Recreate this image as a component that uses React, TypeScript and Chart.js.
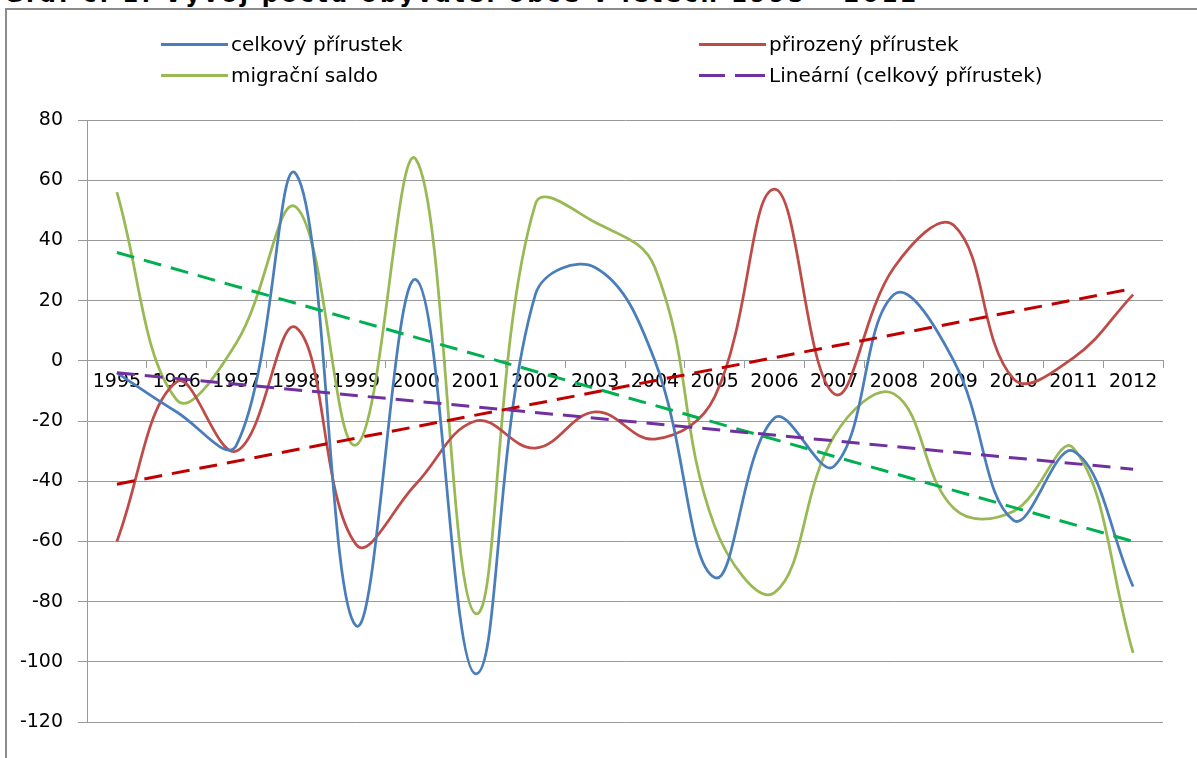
import React, { useEffect, useRef } from "react";
import { Chart, registerables } from "chart.js";

Chart.register(...registerables);

const years = ["1995","1996","1997","1998","1999","2000","2001","2002","2003","2004","2005","2006","2007","2008","2009","2010","2011","2012"];
const celkovy = [-4, -17, -28, 62, -88, 27, -104, 22, 31, 0, -72, -19, -35, 22, 0, -53, -30, -75];
const prirozeny = [-60, -7, -30, 11, -61, -41, -20, -29, -17, -26, -12, 57, -11, 31, 45, -6, 1, 22];
const migracni = [56, -13, 6, 51, -28, 67, -84, 52, 46, 31, -55, -77, -25, -11, -49, -50, -29, -97];
const trendCelkovy = [-4, null, null, null, null, null, null, null, null, null, null, null, null, null, null, null, null, -36];
const trendMigracni = [36, null, null, null, null, null, null, null, null, null, null, null, null, null, null, null, null, -60];
const trendPrirozeny = [-41, null, null, null, null, null, null, null, null, null, null, null, null, null, null, null, null, 24];
const yTicks = [80, 60, 40, 20, 0, -20, -40, -60, -80, -100, -120];

const FONT = "'DejaVu Sans', sans-serif";

export default function App() {
  const ref = useRef<HTMLCanvasElement | null>(null);
  useEffect(() => {
    document.body.style.margin = "0";
    const ctx = ref.current!.getContext("2d")!;
    const chart = new Chart(ctx, {
      type: "line",
      data: {
        labels: years,
        datasets: [
          { label: "Lineární (celkový přírustek)", data: trendCelkovy, borderColor: "#7030A0", borderWidth: 3, borderDash: [18, 10], spanGaps: true, tension: 0, pointRadius: 0, order: 1 },
          { label: "trend migrační", data: trendMigracni, borderColor: "#00B050", borderWidth: 3, borderDash: [18, 10], spanGaps: true, tension: 0, pointRadius: 0, order: 1 },
          { label: "trend přirozený", data: trendPrirozeny, borderColor: "#C00000", borderWidth: 3, borderDash: [18, 10], spanGaps: true, tension: 0, pointRadius: 0, order: 1 },
          { label: "celkový přírustek", data: celkovy, borderColor: "#4A7EBB", borderWidth: 2.75, tension: 0.4, pointRadius: 0, order: 2 },
          { label: "přirozený přírustek", data: prirozeny, borderColor: "#BE4B48", borderWidth: 2.75, tension: 0.4, pointRadius: 0, order: 3 },
          { label: "migrační saldo", data: migracni, borderColor: "#98B954", borderWidth: 2.75, tension: 0.4, pointRadius: 0, order: 4 },
        ],
      },
      options: {
        animation: false,
        responsive: false,
        maintainAspectRatio: false,
        layout: { padding: { left: 0, top: 120, right: 34, bottom: 36 } },
        plugins: { legend: { display: false }, title: { display: false }, tooltip: { enabled: false } },
        scales: {
          x: {
            type: "category",
            offset: true,
            position: { y: 0 },
            grid: { display: true, drawOnChartArea: false, drawTicks: true, tickLength: 7, offset: true, color: "#999999" },
            border: { display: true, color: "#999999", width: 1 },
            ticks: { autoSkip: false, maxRotation: 0, minRotation: 0, padding: 3, color: "#000", font: { family: FONT, size: 19 } },
          },
          y: {
            min: -120,
            max: 80,
            afterFit: (scale: any) => { scale.width = 87; },
            afterBuildTicks: (scale: any) => { scale.ticks = yTicks.map((v) => ({ value: v })); },
            grid: { color: "#999999", lineWidth: 1, tickLength: 9, drawTicks: true },
            border: { display: true, color: "#999999", width: 1 },
            ticks: { padding: 15, color: "#000", font: { family: FONT, size: 19 } },
          },
        },
      },
    });
    return () => chart.destroy();
  }, []);

  const legendText: React.CSSProperties = { position: "absolute", fontFamily: FONT, fontSize: 20, color: "#000", whiteSpace: "nowrap", lineHeight: "24px" };
  const line = (x: number, y: number, color: string, dashed = false): React.ReactNode =>
    dashed ? (
      <div style={{ position: "absolute", left: x, top: y - 1.5, width: 66, height: 3 }}>
        <div style={{ position: "absolute", left: 0, top: 0, width: 26, height: 3, background: color }} />
        <div style={{ position: "absolute", left: 36, top: 0, width: 30, height: 3, background: color }} />
      </div>
    ) : (
      <div style={{ position: "absolute", left: x, top: y - 1.5, width: 67, height: 3, background: color }} />
    );

  return (
    <div style={{ position: "fixed", left: 0, top: 0, width: 1197, height: 758, overflow: "hidden", background: "#fff" }}>
      <div style={{ position: "absolute", left: 4, top: -19, fontFamily: "'DejaVu Sans', sans-serif", fontWeight: "bold", fontSize: 23, whiteSpace: "nowrap", color: "#000", lineHeight: "27px", letterSpacing: "3px" }}>
        Graf č. 1: Vývoj počtu obyvatel obce v letech 1995 – 2012
      </div>
      <div style={{ position: "absolute", left: 5, top: 8, width: 1300, height: 900, border: "2px solid #8c8c8c", boxSizing: "border-box", background: "#fff" }} />
      <canvas ref={ref} width={1197} height={758} style={{ position: "absolute", left: 0, top: 0 }} />
      {line(161, 44, "#4A7EBB")}
      <div style={{ ...legendText, left: 231, top: 32 }}>celkový přírustek</div>
      {line(699, 44, "#BE4B48")}
      <div style={{ ...legendText, left: 769, top: 32 }}>přirozený přírustek</div>
      {line(161, 75, "#98B954")}
      <div style={{ ...legendText, left: 231, top: 63 }}>migrační saldo</div>
      {line(699, 75, "#7030A0", true)}
      <div style={{ ...legendText, left: 769, top: 63 }}>Lineární (celkový přírustek)</div>
    </div>
  );
}
